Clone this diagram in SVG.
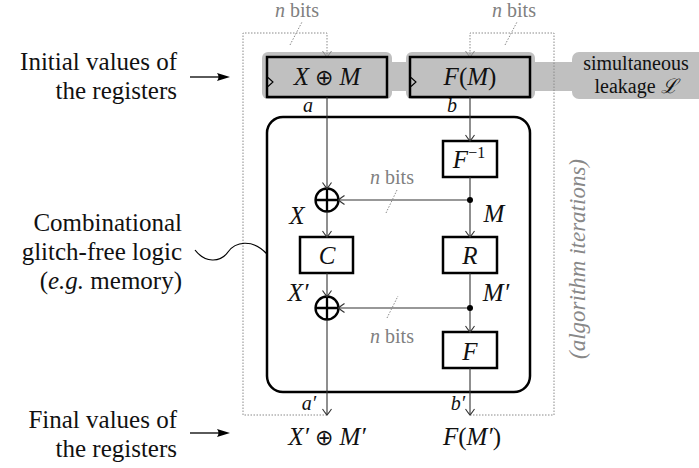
<svg xmlns="http://www.w3.org/2000/svg" width="699" height="468" viewBox="0 0 699 468">
  <!-- register halos and the shared leakage band -->
  <g id="leakage-band" fill="#c0c0c0">
    <rect x="380" y="62" width="200" height="29"/>
    <rect x="262" y="52" width="130" height="47" rx="6"/>
    <rect x="406" y="52" width="129" height="47" rx="6"/>
    <rect x="572" y="52" width="140" height="47" rx="7"/>
  </g>

  <!-- iteration feedback loops (dotted) -->
  <g id="feedback">
    <g fill="none" stroke="#8a8a8a" stroke-width="1" stroke-dasharray="1.5 1.5">
      <path d="M 327 415 H 243 V 33 H 327 V 56"/>
      <path d="M 470 415 H 554 V 33 H 470 V 56"/>
      <line x1="290" y1="45" x2="302" y2="22"/>
      <line x1="505" y1="45" x2="517" y2="22"/>
    </g>
    <g fill="none" stroke="#888" stroke-width="1">
      <path d="M 322.5 51 Q 325.8 55.8 327 57 Q 328.2 55.8 331.5 51"/>
      <path d="M 465.5 51 Q 468.8 55.8 470 57 Q 471.2 55.8 474.5 51"/>
    </g>
    <text font-family="Liberation Serif" font-size="20" fill="#808080" x="297" y="17" text-anchor="middle"><tspan font-style="italic">n</tspan> bits</text>
    <text font-family="Liberation Serif" font-size="20" fill="#808080" x="514" y="17" text-anchor="middle"><tspan font-style="italic">n</tspan> bits</text>
  </g>

  <g id="leakage">
    <text font-family="Liberation Serif" font-size="20" fill="#111" x="636" y="70" text-anchor="middle">simultaneous</text>
    <text font-family="Liberation Serif" font-size="20" fill="#111" x="636" y="93" text-anchor="middle">leakage <tspan font-style="italic">ℒ</tspan></text>
  </g>

  <g id="reg-a">
    <rect x="267" y="57" width="120" height="40" fill="#c0c0c0" stroke="#000" stroke-width="2.5"/>
    <path d="M 268 77.5 L 273 82 L 268 86.5" fill="none" stroke="#000" stroke-width="1.1"/>
    <text font-family="Liberation Serif" font-size="25" font-style="italic" fill="#111" x="327" y="85" text-anchor="middle">X <tspan font-style="normal" font-size="22">⊕</tspan> M</text>
  </g>
  <g id="reg-b">
    <rect x="410" y="57" width="120" height="40" fill="#c0c0c0" stroke="#000" stroke-width="2.5"/>
    <path d="M 411 77.5 L 416 82 L 411 86.5" fill="none" stroke="#000" stroke-width="1.1"/>
    <text font-family="Liberation Serif" font-size="25" font-style="italic" fill="#111" x="470" y="85" text-anchor="middle">F<tspan font-style="normal">(</tspan>M<tspan font-style="normal">)</tspan></text>
  </g>

  <!-- combinational logic block -->
  <g id="logic">
    <rect x="267" y="117" width="263" height="275" rx="16" fill="none" stroke="#000" stroke-width="2.5"/>
  </g>

  <g id="finv">
    <rect x="443" y="141" width="54" height="36" fill="#fff" stroke="#000" stroke-width="2.5"/>
    <text font-family="Liberation Serif" font-size="25" font-style="italic" fill="#111" x="469" y="168" text-anchor="middle">F<tspan font-style="normal" font-size="16" dy="-10">−1</tspan></text>
  </g>
  <g id="xor1">
    <circle cx="327" cy="200" r="11.5" fill="#fff" stroke="#000" stroke-width="2.3"/>
    <path d="M 315.5 200 H 338.5 M 327 188.5 V 211.5" stroke="#000" stroke-width="2.3"/>
  </g>
  <g id="c">
    <rect x="300" y="237" width="53" height="36" fill="#fff" stroke="#000" stroke-width="2.5"/>
    <text font-family="Liberation Serif" font-size="25" font-style="italic" fill="#111" x="327" y="264" text-anchor="middle">C</text>
  </g>
  <g id="r">
    <rect x="443" y="237" width="54" height="36" fill="#fff" stroke="#000" stroke-width="2.5"/>
    <text font-family="Liberation Serif" font-size="25" font-style="italic" fill="#111" x="470" y="264" text-anchor="middle">R</text>
  </g>
  <g id="xor2">
    <circle cx="327" cy="308" r="11.5" fill="#fff" stroke="#000" stroke-width="2.3"/>
    <path d="M 315.5 308 H 338.5 M 327 296.5 V 319.5" stroke="#000" stroke-width="2.3"/>
  </g>
  <g id="f">
    <rect x="443" y="332" width="54" height="36" fill="#fff" stroke="#000" stroke-width="2.5"/>
    <text font-family="Liberation Serif" font-size="25" font-style="italic" fill="#111" x="470" y="360" text-anchor="middle">F</text>
  </g>

  <g id="connectors">
    <g fill="none" stroke="#333" stroke-width="1.1">
      <line x1="327" y1="97" x2="327" y2="188.5"/>
      <line x1="327" y1="211.5" x2="327" y2="237"/>
      <line x1="327" y1="273" x2="327" y2="296.5"/>
      <line x1="327" y1="319.5" x2="327" y2="415"/>
      <line x1="470" y1="97" x2="470" y2="141"/>
      <line x1="470" y1="177" x2="470" y2="237"/>
      <line x1="470" y1="273" x2="470" y2="332"/>
      <line x1="470" y1="368" x2="470" y2="415"/>
      <line x1="470" y1="200" x2="338.5" y2="200"/>
      <line x1="470" y1="308" x2="338.5" y2="308"/>
      <!-- open arrowheads -->
      <path d="M 322.5 182.5 Q 325.8 187.3 327 188.5 Q 328.2 187.3 331.5 182.5"/>
      <path d="M 322.5 231 Q 325.8 235.8 327 237 Q 328.2 235.8 331.5 231"/>
      <path d="M 322.5 290.5 Q 325.8 295.3 327 296.5 Q 328.2 295.3 331.5 290.5"/>
      <path d="M 322.5 409 Q 325.8 413.8 327 415 Q 328.2 413.8 331.5 409"/>
      <path d="M 465.5 135 Q 468.8 139.8 470 141 Q 471.2 139.8 474.5 135"/>
      <path d="M 465.5 231 Q 468.8 235.8 470 237 Q 471.2 235.8 474.5 231"/>
      <path d="M 465.5 326 Q 468.8 330.8 470 332 Q 471.2 330.8 474.5 326"/>
      <path d="M 465.5 409 Q 468.8 413.8 470 415 Q 471.2 413.8 474.5 409"/>
      <path d="M 344.5 195.5 Q 339.7 198.8 338.5 200 Q 339.7 201.2 344.5 204.5"/>
      <path d="M 344.5 303.5 Q 339.7 306.8 338.5 308 Q 339.7 309.2 344.5 312.5"/>
    </g>
    <circle cx="470" cy="200" r="3" fill="#000"/>
    <circle cx="470" cy="308" r="3" fill="#000"/>
    <g fill="none" stroke="#8a8a8a" stroke-width="1" stroke-dasharray="1.5 1.5">
      <line x1="386" y1="213" x2="397" y2="190"/>
      <line x1="387" y1="318" x2="398" y2="296"/>
    </g>
    <text font-family="Liberation Serif" font-size="20" fill="#808080" x="392" y="184" text-anchor="middle"><tspan font-style="italic">n</tspan> bits</text>
    <text font-family="Liberation Serif" font-size="20" fill="#808080" x="392" y="343" text-anchor="middle"><tspan font-style="italic">n</tspan> bits</text>
    <!-- wire labels -->
    <text font-family="Liberation Serif" font-size="20" font-style="italic" fill="#111" x="308" y="112" text-anchor="middle">a</text>
    <text font-family="Liberation Serif" font-size="20" font-style="italic" fill="#111" x="452" y="112" text-anchor="middle">b</text>
    <text font-family="Liberation Serif" font-size="20" font-style="italic" fill="#111" x="309" y="410" text-anchor="middle">a′</text>
    <text font-family="Liberation Serif" font-size="20" font-style="italic" fill="#111" x="458" y="410" text-anchor="middle">b′</text>
    <text font-family="Liberation Serif" font-size="25" font-style="italic" fill="#111" x="297" y="224" text-anchor="middle">X</text>
    <text font-family="Liberation Serif" font-size="25" font-style="italic" fill="#111" x="494" y="222" text-anchor="middle">M</text>
    <text font-family="Liberation Serif" font-size="25" font-style="italic" fill="#111" x="298" y="301" text-anchor="middle">X′</text>
    <text font-family="Liberation Serif" font-size="25" font-style="italic" fill="#111" x="496" y="301" text-anchor="middle">M′</text>
    <text font-family="Liberation Serif" font-size="25" font-style="italic" fill="#111" x="327" y="445" text-anchor="middle">X′ <tspan font-style="normal" font-size="22">⊕</tspan> M′</text>
    <text font-family="Liberation Serif" font-size="25" font-style="italic" fill="#111" x="472" y="445" text-anchor="middle">F<tspan font-style="normal">(</tspan>M′<tspan font-style="normal">)</tspan></text>
    <!-- side annotation arrows and brace -->
    <line x1="190" y1="77" x2="220" y2="77" stroke="#000" stroke-width="1.3"/>
    <path d="M 230 77 L 217 73 Q 220 77 217 81 Z" fill="#000"/>
    <line x1="190" y1="433" x2="220" y2="433" stroke="#000" stroke-width="1.3"/>
    <path d="M 230 433 L 217 429 Q 220 433 217 437 Z" fill="#000"/>
    <path d="M 195 250 C 205 263 220 263 228 252 C 235 242 252 238 267 254" fill="none" stroke="#000" stroke-width="1.2"/>
  </g>

  <g id="annotations">
    <text font-family="Liberation Serif" font-size="25" fill="#111" x="177" y="70" text-anchor="end">Initial values of</text>
    <text font-family="Liberation Serif" font-size="25" fill="#111" x="177" y="99" text-anchor="end">the registers</text>
    <text font-family="Liberation Serif" font-size="25" fill="#111" x="182" y="231" text-anchor="end">Combinational</text>
    <text font-family="Liberation Serif" font-size="25" fill="#111" x="182" y="260" text-anchor="end">glitch-free logic</text>
    <text font-family="Liberation Serif" font-size="25" fill="#111" x="182" y="289" text-anchor="end">(<tspan font-style="italic">e.g.</tspan> memory)</text>
    <text font-family="Liberation Serif" font-size="25" fill="#111" x="177" y="428" text-anchor="end">Final values of</text>
    <text font-family="Liberation Serif" font-size="25" fill="#111" x="177" y="457" text-anchor="end">the registers</text>
    <text font-family="Liberation Serif" font-size="23" font-style="italic" fill="#888" transform="translate(585 259) rotate(-90)" text-anchor="middle">(algorithm iterations)</text>
  </g>
</svg>
